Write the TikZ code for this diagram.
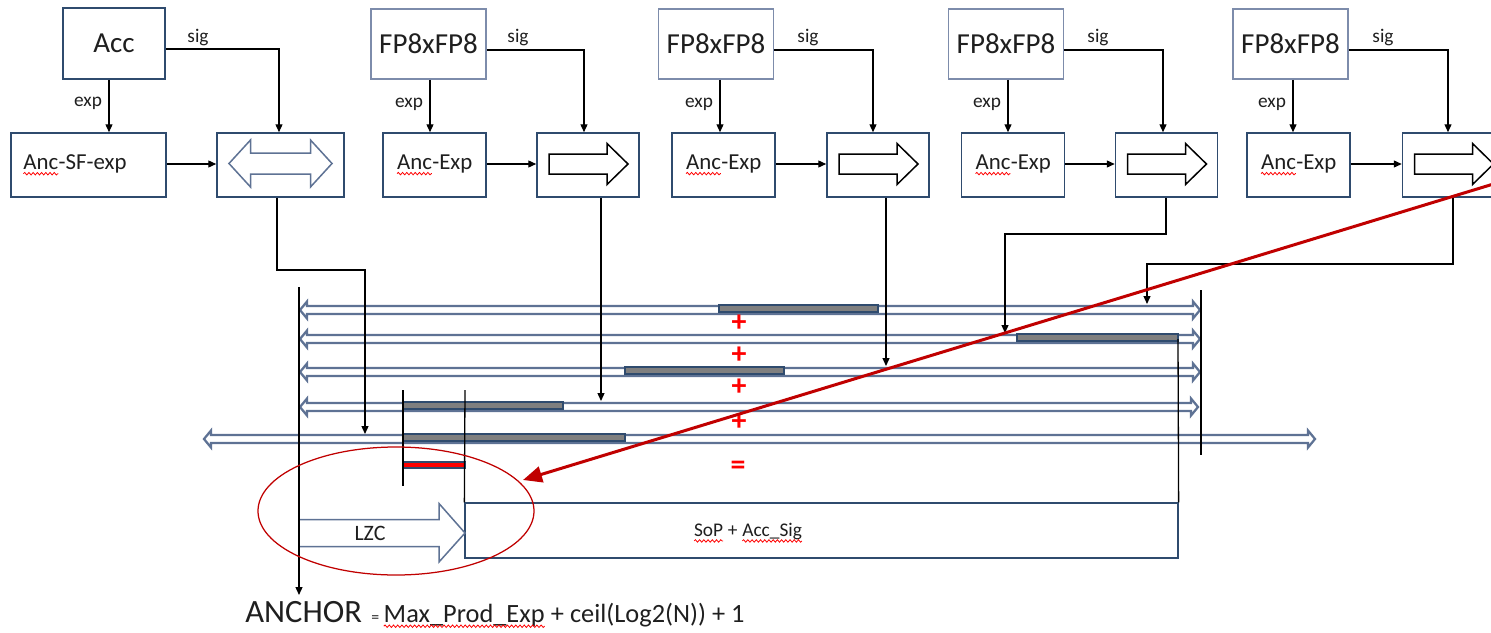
\documentclass[tikz,border=0pt]{standalone}
\usepackage{fontspec}
\setmainfont{Carlito}
\usetikzlibrary{arrows.meta,shapes.geometric,decorations.pathmorphing}

\definecolor{navy}{HTML}{2F4B6E}
\definecolor{paleblue}{HTML}{7D8CAB}
\definecolor{slate}{HTML}{5E7294}
\definecolor{bargrey}{HTML}{7F7F7F}
\definecolor{darkred}{HTML}{C00000}
\definecolor{txt}{HTML}{1F1F1F}

% word with a red wavy spell-check underline
\newcommand\spell[1]{\tikz[baseline=(w.base)]{\node[shape=rectangle, inner sep=0pt, outer sep=0pt,
    minimum width=0pt, minimum height=0pt, draw=none, fill=none, text width={}, align=center] (w) {#1};
  \draw[red, line width=0.45pt, decorate, decoration={snake, amplitude=0.7pt, segment length=2.4pt}]
    ([yshift=-2.4pt]w.base west) -- ([yshift=-2.4pt]w.base east);}}

% hollow left-right lane arrow: x1, x2, y
\newcommand\lanearrow[3]{%
  \draw[lane] (#1,#3) -- ++(7,-8.5) -- ++(0,4.5) -- (#2-7,#3-4) -- ++(0,-4.5)
    -- (#2,#3) -- ++(-7,8.5) -- ++(0,-4.5) -- (#1+7,#3+4) -- ++(0,4.5) -- cycle;}
% partial-sum bar on a lane: x1, x2, y
\newcommand\sumbar[3]{\draw[bar] (#1,#3-5) rectangle (#2,#3+2);}

\begin{document}
\begin{tikzpicture}[x=0.2mm,y=-0.2mm,
  box/.style={draw=navy, line width=0.3mm, fill=white, inner sep=0pt, text=txt},
  bigtxt/.style={font=\fontsize{16.5}{18}\selectfont},
  fpbox/.style={box, bigtxt, draw=paleblue, minimum width=23mm, minimum height=14mm},
  ancbox/.style={box, minimum height=12.8mm, font=\fontsize{13}{15}\selectfont},
  alignbox/.style={box, minimum height=12.8mm},
  conn/.style={line width=0.26mm, draw=black, -{Triangle[length=1.6mm,width=1.4mm]}},
  wire/.style={line width=0.26mm, draw=black},
  tag/.style={font=\fontsize{11}{13}\selectfont, text=txt, inner sep=0pt},
  lane/.style={draw=slate, line width=0.45mm, fill=white, line join=miter},
  bar/.style={draw=navy, line width=0.3mm, fill=bargrey},
  op/.style={text=red, font=\fontsize{17}{19}\selectfont\bfseries, inner sep=0pt},
]
\useasboundingbox (0,0) rectangle (1491,633);
\clip (0,0) rectangle (1491,633);

% ---------- top row: sources ----------
\node[box, bigtxt, minimum width=20.4mm, minimum height=14.2mm] (acc) at (114,43.5) {Acc};
\node[fpbox] (fp1) at (428.5,44) {FP8xFP8};
\node[fpbox] (fp2) at (716,44) {FP8xFP8};
\node[fpbox] (fp3) at (1006,44) {FP8xFP8};
\node[fpbox] (fp4) at (1290.5,44) {FP8xFP8};

% ---------- second row: anchor exponent + alignment shifters ----------
\node[ancbox, minimum width=31mm, text width=26.2mm, align=left] (ancsf) at (88.5,165) {\spell{Anc}-SF-exp};
\node[ancbox, minimum width=20.6mm] (anc1) at (434.5,165) {\spell{Anc}-Exp};
\node[ancbox, minimum width=20.6mm] (anc2) at (723.5,165) {\spell{Anc}-Exp};
\node[ancbox, minimum width=20.6mm] (anc3) at (1013,165) {\spell{Anc}-Exp};
\node[ancbox, minimum width=20.6mm] (anc4) at (1298.5,165) {\spell{Anc}-Exp};

\node[alignbox, minimum width=25.4mm] (dbl) at (280.5,165) {};
\node[alignbox, minimum width=20.4mm] (sh1) at (588,165) {};
\node[alignbox, minimum width=20.4mm] (sh2) at (878,165) {};
\node[alignbox, minimum width=20.4mm] (sh3) at (1166.5,165) {};
\node[alignbox, minimum width=20.4mm] (sh4) at (1453.5,165) {};

% shift glyphs inside the shifter boxes
\draw[lane, line width=0.3mm, shift={(dbl.center)}]
  (-51.5,-1.5) -- (-30,-25) -- (-30,-12) -- (30,-12) -- (30,-25) -- (51.5,-1.5)
  -- (30,22) -- (30,9) -- (-30,9) -- (-30,22) -- cycle;
\foreach \b in {sh1,sh2,sh3,sh4}{
  \draw[line width=0.3mm, draw=black, fill=white, shift={(\b.center)}]
    (-39,-11) -- (19,-11) -- (19,-21.5) -- (40,-1) -- (19,19.5) -- (19,9) -- (-39,9) -- cycle;
}

% ---------- exp / sig connections ----------
\draw[conn] (acc.south -| 109,0) -- (ancsf.north -| 109,0);
\draw[conn] (fp1.south -| 430,0) -- (anc1.north -| 430,0);
\draw[conn] (fp2.south -| 720,0) -- (anc2.north -| 720,0);
\draw[conn] (fp3.south -| 1008,0) -- (anc3.north -| 1008,0);
\draw[conn] (fp4.south -| 1293,0) -- (anc4.north -| 1293,0);

\draw[conn] (acc.east |- 0,49) -| (dbl.north -| 279,0);
\draw[conn] (fp1.east |- 0,50) -| (sh1.north -| 584,0);
\draw[conn] (fp2.east |- 0,50) -| (sh2.north -| 873,0);
\draw[conn] (fp3.east |- 0,50) -| (sh3.north -| 1163,0);
\draw[conn] (fp4.east |- 0,50) -| (sh4.north -| 1448,0);

\node[tag] (e0) at (88,103) {exp};
\node[tag] (e1) at (409,104) {exp};
\node[tag] (e2) at (699,104) {exp};
\node[tag] (e3) at (987,104) {exp};
\node[tag] (e4) at (1272,104) {exp};
\node[tag] (s0) at (198,38) {sig};
\node[tag] (s1) at (518,38) {sig};
\node[tag] (s2) at (808,38) {sig};
\node[tag] (s3) at (1098,38) {sig};
\node[tag] (s4) at (1383,38) {sig};

\draw[conn] (ancsf.east |- 0,164) -- (dbl.west |- 0,164);
\draw[conn] (anc1.east |- 0,164) -- (sh1.west |- 0,164);
\draw[conn] (anc2.east |- 0,164) -- (sh2.west |- 0,164);
\draw[conn] (anc3.east |- 0,164) -- (sh3.west |- 0,164);
\draw[conn] (anc4.east |- 0,164) -- (sh4.west |- 0,164);

% ---------- aligned significand lanes ----------
\lanearrow{300}{1200}{310}
\lanearrow{300}{1200}{339}
\lanearrow{300}{1200}{372}
\lanearrow{300}{1198}{407}
\lanearrow{204}{1315}{439}

\sumbar{719}{878}{310}
\sumbar{1017}{1178}{339}
\sumbar{625}{784}{372}
\sumbar{403}{563}{407}
\sumbar{403}{625}{439}
\draw[draw=navy, line width=0.3mm, fill=red] (403,462) rectangle (465,468);

\node[op] (p1) at (739,323) {+};
\node[op] (p2) at (739,355) {+};
\node[op] (p3) at (739,387) {+};
\node[op] (p4) at (739,422) {+};
\node[op] (eq) at (738,468) {=};

% ---------- result ----------
\node[box, line width=0.25mm, minimum width=142.6mm, minimum height=11mm] (sop) at (821.5,530.5) {};
\node[font=\fontsize{11}{13}\selectfont, text=txt, inner sep=0pt] (soptxt) at (748,533) {\spell{SoP} + \spell{Acc\_Sig}};

\draw[lane, line width=0.3mm] (299,519.5) -- (439,519.5) -- (439,503.5) -- (465,533)
  -- (439,562) -- (439,546.5) -- (299,546.5) -- cycle;
\node[font=\fontsize{12.5}{14}\selectfont, text=txt, inner sep=0pt] (lzc) at (370,533) {LZC};

% boundary markers
\draw[wire] (1201,290) -- (1201,455);
\draw[wire] (403,390) -- (403,486);
\draw[wire] (465,390) -- (sop.north west);
\draw[wire] (1178,339) -- (sop.north east);

% shifter outputs onto the lanes
\draw[conn] (dbl.south -| 277,0) |- (365,270) -- (365,434);
\draw[conn] (sh1.south -| 601,0) -- (601,401);
\draw[conn] (sh2.south -| 886,0) -- (886,366);
\draw[conn] (sh3.south -| 1166,0) |- (1005,234) -- (1005,333);
\draw[conn] (sh4.south -| 1453,0) |- (1147,264) -- (1147,304);

% anchor position
\node[anchor=base west, inner sep=0pt, text=txt, font=\fontsize{18.5}{20}\selectfont] (anchor) at (245,622) {ANCHOR};
\node[anchor=base west, inner sep=0pt, text=txt, font=\fontsize{9}{10}\selectfont] (anceq) at (371,622) {=};
\node[anchor=base west, inner sep=0pt, text=txt, font=\fontsize{15}{17}\selectfont] (formula) at (383,622)
  {\spell{Max\_Prod\_Exp} + ceil(Log2(N)) + 1};
\draw[conn] (299,287) -- (299,595);

% highlight of the normalisation step
\node[draw=darkred, line width=0.25mm, ellipse, minimum width=55.2mm, minimum height=25.6mm, inner sep=0pt] (ring) at (396,511) {};
\coordinate (rstart) at (1500,182);
\coordinate (rtip) at (523,480);
\draw[darkred, line width=0.6mm, -{Triangle[length=3.8mm,width=3.2mm]}] (rstart) -- (rtip);
\end{tikzpicture}
\end{document}
